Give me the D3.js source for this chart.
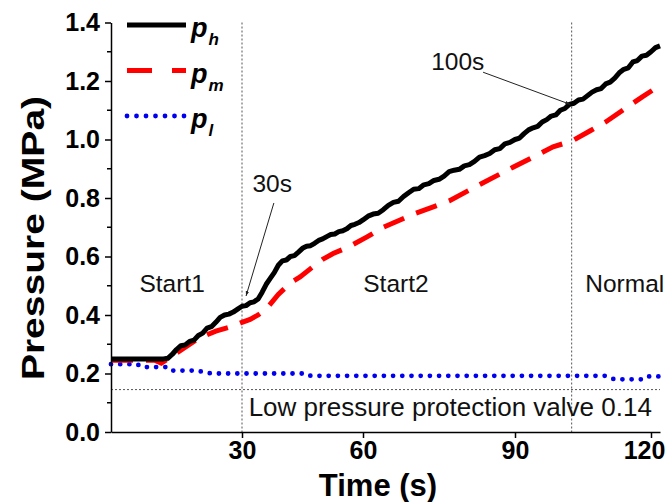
<!DOCTYPE html>
<html lang="en">
  <head>
    <meta charset="UTF-8" />
    <title>Pressure</title>
    <style>
      body {
        margin: 0;
        background: #fff;
      }
      text {
        font-family: Arial, "Liberation Sans", sans-serif;
      }
      .axis path,
      .axis line {
        stroke: #000;
        stroke-width: 1.5;
      }
      .axis text {
        font-size: 25px;
        font-weight: bold;
        fill: #000;
      }
    </style>
  </head>
  <body>
    <svg id="chart"></svg>
    <script src="https://cdnjs.cloudflare.com/ajax/libs/d3/7.4.4/d3.min.js"></script>
    <script>
      // p_h (black solid)
      const timeH = [0, 12, 13, 14, 15, 16, 17, 18, 19, 20, 21, 22, 23, 24, 25, 26, 27, 28, 29, 30,
        31, 32, 33, 34, 35, 36, 37, 38, 39, 40, 41, 42, 43, 44, 45, 46, 47, 48, 49, 50,
        51, 52, 53, 54, 55, 56, 57, 58, 59, 60, 61, 62, 63, 64, 65, 66, 67, 68, 69, 70,
        71, 72, 73, 74, 75, 76, 77, 78, 79, 80, 81, 82, 83, 84, 85, 86, 87, 88, 89, 90,
        91, 92, 93, 94, 95, 96, 97, 98, 99, 100, 101, 102, 103, 104, 105, 106, 107, 108, 109, 110,
        111, 112, 113, 114, 115, 116, 117, 118, 119, 120, 121, 122];
      const pH = [0.25, 0.25, 0.252, 0.265, 0.282, 0.295, 0.298, 0.31, 0.314, 0.33, 0.338, 0.355, 0.36, 0.375, 0.392, 0.4, 0.403, 0.41, 0.42, 0.43,
        0.432, 0.442, 0.445, 0.455, 0.478, 0.505, 0.525, 0.545, 0.57, 0.585, 0.588, 0.6, 0.603, 0.615, 0.628, 0.635, 0.637, 0.645, 0.655, 0.66,
        0.668, 0.675, 0.677, 0.685, 0.688, 0.695, 0.706, 0.71, 0.716, 0.725, 0.738, 0.745, 0.748, 0.76, 0.775, 0.785, 0.789, 0.805, 0.818, 0.83,
        0.832, 0.845, 0.849, 0.86, 0.864, 0.875, 0.89, 0.895, 0.898, 0.91, 0.914, 0.925, 0.94, 0.945, 0.952, 0.965, 0.969, 0.985, 0.99, 1.0,
        1.005, 1.02, 1.033, 1.04, 1.045, 1.06, 1.068, 1.08, 1.084, 1.1, 1.106, 1.12, 1.124, 1.135, 1.138, 1.15, 1.162, 1.17, 1.174, 1.19,
        1.196, 1.21, 1.228, 1.24, 1.245, 1.265, 1.27, 1.285, 1.288, 1.3, 1.314, 1.32];

      // p_m (red dashed)
      const timeM = [0, 10, 11.5, 16, 20, 24, 28, 30, 32, 34, 36, 39, 42, 44.4, 47.6, 50, 52.6, 56, 60.8, 64,
        70, 77, 82.4, 89.6, 94, 98.4, 102.6, 106.6, 110, 114.7, 118, 122];
      const pM = [0.245, 0.245, 0.235, 0.28, 0.32, 0.345, 0.362, 0.375, 0.385, 0.4, 0.42, 0.47, 0.51, 0.53, 0.565, 0.59, 0.61, 0.63, 0.667, 0.7,
        0.745, 0.79, 0.84, 0.905, 0.94, 0.975, 0.995, 1.03, 1.06, 1.11, 1.145, 1.185];

      // p_l (blue dotted)
      const timeL = [0, 6, 7, 13, 14, 20, 21, 23, 46, 47, 110, 111, 112, 118, 119, 122];
      const pL = [0.232, 0.232, 0.222, 0.222, 0.21, 0.21, 0.205, 0.2, 0.2, 0.192, 0.192, 0.185, 0.18, 0.18, 0.19, 0.19];

      const xTicks = [30, 60, 90, 120];
      const yTicks = [0, 0.2, 0.4, 0.6, 0.8, 1.0, 1.2, 1.4];
      const yMinor = [0.1, 0.3, 0.5, 0.7, 0.9, 1.1, 1.3];
      const phaseLines = [30, 102.5];
      const lowValve = 0.145;

      const W = 669, H = 502;
      const svg = d3.select("#chart").attr("width", W).attr("height", H);

      // the tick spacing in the figure is uneven, so use a piecewise scale
      const x = d3.scaleLinear()
        .domain([0, 30, 60, 90, 120, 122])
        .range([111, 242, 363, 515, 651, 660]);
      const y = d3.scaleLinear().domain([0, 1.4]).range([432, 22.5]);

      const toPts = (ts, vs) => ts.map((t, i) => [t, vs[i]]);
      const line = d3.line().x((d) => x(d[0])).y((d) => y(d[1]));

      // reference lines
      const ref = svg.append("g").attr("stroke", "#555").attr("stroke-width", 1)
        .attr("stroke-dasharray", "2,2").attr("fill", "none");
      ref.selectAll("line.v").data(phaseLines).join("line")
        .attr("x1", (d) => x(d)).attr("x2", (d) => x(d))
        .attr("y1", y(1.4)).attr("y2", y(0));
      ref.append("line")
        .attr("x1", x(0)).attr("x2", x(122))
        .attr("y1", y(lowValve)).attr("y2", y(lowValve));

      // series
      svg.append("path").datum(toPts(timeL, pL))
        .attr("fill", "none").attr("stroke", "#0000ee").attr("stroke-width", 4.8)
        .attr("stroke-linecap", "round").attr("stroke-dasharray", "0,9.2")
        .attr("d", line);
      svg.append("path").datum(toPts(timeM, pM))
        .attr("fill", "none").attr("stroke", "#ff0000").attr("stroke-width", 5)
        .attr("stroke-dasharray", "22,13")
        .attr("d", line);
      svg.append("path").datum(toPts(timeH, pH))
        .attr("fill", "none").attr("stroke", "#000").attr("stroke-width", 5)
        .attr("stroke-linejoin", "round")
        .attr("d", line);

      // axes
      const gx = svg.append("g").attr("class", "axis").attr("transform", `translate(0,${y(0)})`)
        .call(d3.axisBottom(x).tickValues(xTicks).tickSize(6).tickSizeOuter(0).tickPadding(3));
      gx.selectAll(".tick text").filter((d) => d === 120).attr("dx", -7);
      const gy = svg.append("g").attr("class", "axis").attr("transform", `translate(${x(0)},0)`)
        .call(d3.axisLeft(y).tickValues(yTicks).tickFormat(d3.format(".1f")).tickSize(6).tickSizeOuter(0).tickPadding(5));
      gy.selectAll("line.minor").data(yMinor).join("line")
        .attr("class", "minor").attr("x1", -4).attr("x2", 0)
        .attr("y1", (d) => y(d)).attr("y2", (d) => y(d));

      svg.append("text").attr("x", 378).attr("y", 496).attr("text-anchor", "middle")
        .attr("font-size", 31).attr("font-weight", "bold").text("Time (s)");
      svg.append("text").attr("transform", "translate(44,238) rotate(-90) scale(1.22,1)").attr("text-anchor", "middle")
        .attr("font-size", 32).attr("font-weight", "bold").text("Pressure (MPa)");

      // annotations
      const note = svg.append("g").attr("font-size", 24.5).attr("fill", "#111");
      note.append("text").attr("x", x(14)).attr("y", y(0.48)).attr("text-anchor", "middle").text("Start1");
      note.append("text").attr("x", x(66.5)).attr("y", y(0.48)).attr("text-anchor", "middle").text("Start2");
      note.append("text").attr("x", x(105.5)).attr("y", y(0.48)).text("Normal");
      note.append("text").attr("x", x(120.2)).attr("y", y(0.055)).attr("text-anchor", "end")
        .attr("font-size", 26).text("Low pressure protection valve 0.14");
      note.append("text").attr("x", x(37.5)).attr("y", y(0.82)).attr("text-anchor", "middle").text("30s");
      note.append("text").attr("x", x(78.7)).attr("y", y(1.238)).attr("text-anchor", "middle").text("100s");

      svg.append("defs").append("marker").attr("id", "arr")
        .attr("viewBox", "0 0 10 10").attr("refX", 10).attr("refY", 5)
        .attr("markerWidth", 5).attr("markerHeight", 5).attr("orient", "auto")
        .append("path").attr("d", "M0,1.5L10,5L0,8.5Z").attr("fill", "#222");
      const arrows = [
        [[37.9, 0.783], [31.0, 0.465]],
        [[83.7, 1.23], [102.2, 1.12]],
      ];
      svg.selectAll("line.arrow").data(arrows).join("line")
        .attr("class", "arrow").attr("stroke", "#222").attr("stroke-width", 1)
        .attr("x1", (d) => x(d[0][0])).attr("y1", (d) => y(d[0][1]))
        .attr("x2", (d) => x(d[1][0])).attr("y2", (d) => y(d[1][1]))
        .attr("marker-end", "url(#arr)");

      // legend
      const legend = [
        { sub: "h", color: "#000", dash: null, cap: "butt", w: 5 },
        { sub: "m", color: "#ff0000", dash: "25,20", cap: "butt", w: 5 },
        { sub: "l", color: "#0000ee", dash: "0,9.5", cap: "round", w: 4.8 },
      ];
      const lg = svg.append("g").selectAll("g").data(legend).join("g")
        .attr("transform", (d, i) => `translate(127,${25 + i * 45.5})`);
      lg.append("line").attr("x1", 0).attr("x2", 59).attr("stroke", (d) => d.color)
        .attr("stroke-width", (d) => d.w).attr("stroke-dasharray", (d) => d.dash)
        .attr("stroke-linecap", (d) => d.cap);
      const lt = lg.append("text").attr("x", 64).attr("y", 12)
        .attr("font-weight", "bold").attr("font-style", "italic").attr("font-size", 27);
      lt.append("tspan").text("p");
      lt.append("tspan").attr("dy", 8).attr("dx", 1).attr("font-size", 17).text((d) => d.sub);
    </script>
  </body>
</html>
